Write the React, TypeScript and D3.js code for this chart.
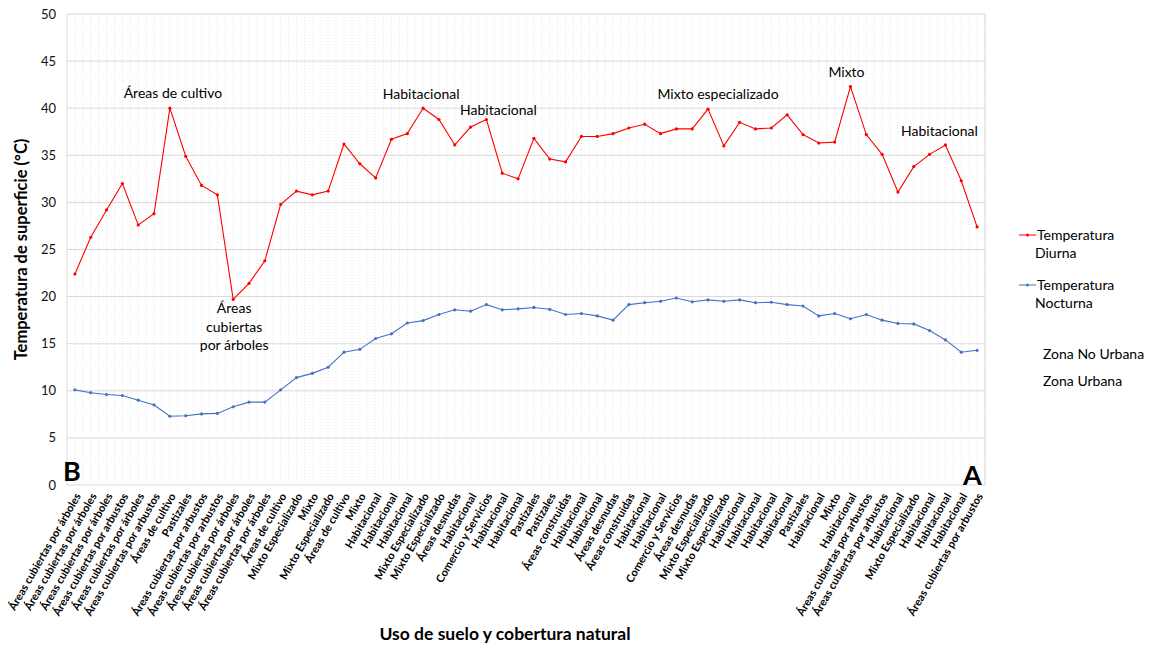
import {default as React, useEffect, useRef} from "react";
import * as d3 from "d3";

const ARB = "Áreas cubiertas por árboles";
const ARBU = "Áreas cubiertas por arbustos";
const HAB = "Habitacional";
const MXE = "Mixto Especializado";

const categories: string[] = [
    ARB, ARB, ARB, ARBU, ARB, ARBU, "Áreas de cultivo", "Pastizales", ARBU, ARBU,
    ARB, ARB, ARB, "Áreas de cultivo", MXE, "Mixto", MXE, "Áreas de cultivo", "Mixto", HAB,
    HAB, HAB, MXE, MXE, "Áreas desnudas", HAB, "Comercio y Servicios", HAB, HAB, "Pastizales",
    "Pastizales", "Áreas construidas", HAB, HAB, "Áreas desnudas", "Áreas construidas", HAB, HAB, "Comercio y Servicios", "Áreas desnudas",
    MXE, MXE, HAB, HAB, HAB, HAB, "Pastizales", HAB, "Mixto", HAB,
    ARBU, ARBU, HAB, MXE, HAB, HAB, HAB, ARBU
];

const diurna: number[] = [
    22.4, 26.3, 29.2, 32.0, 27.6, 28.8, 40.0, 34.9, 31.8, 30.8,
    19.7, 21.4, 23.8, 29.8, 31.2, 30.8, 31.2, 36.2, 34.1, 32.6,
    36.7, 37.3, 40.0, 38.8, 36.1, 38.0, 38.8, 33.1, 32.5, 36.8,
    34.6, 34.3, 37.0, 37.0, 37.3, 37.9, 38.3, 37.3, 37.8, 37.8,
    39.9, 36.0, 38.5, 37.8, 37.9, 39.3, 37.2, 36.3, 36.4, 42.3,
    37.2, 35.1, 31.1, 33.8, 35.1, 36.1, 32.3, 27.4
];

const nocturna: number[] = [
    10.1, 9.8, 9.6, 9.5, 9.0, 8.5, 7.3, 7.35, 7.55, 7.6,
    8.3, 8.8, 8.8, 10.1, 11.4, 11.85, 12.5, 14.1, 14.4, 15.55,
    16.05, 17.2, 17.45, 18.1, 18.6, 18.45, 19.15, 18.6, 18.7, 18.85,
    18.65, 18.1, 18.2, 17.95, 17.5, 19.15, 19.35, 19.5, 19.85, 19.45,
    19.65, 19.5, 19.65, 19.35, 19.4, 19.15, 19.0, 17.95, 18.2, 17.65,
    18.1, 17.5, 17.15, 17.1, 16.4, 15.4, 14.1, 14.3
];

const yTicks: number[] = [0, 5, 10, 15, 20, 25, 30, 35, 40, 45, 50];

// annotations: [category index, value, lines]
const notes: Array<[number, number, string[]]> = [
    [6, 40, ["Áreas de cultivo"]],
    [10, 19.7, ["Áreas", "cubiertas", "por árboles"]],
    [22, 40, ["Habitacional"]],
    [26, 38.8, ["Habitacional"]],
    [40, 39.9, ["Mixto especializado"]],
    [49, 42.3, ["Mixto"]],
    [55, 36.1, ["Habitacional"]]
];

const width = 1152;
const height = 646;
const plot = {left: 67, right: 985, top: 14, bottom: 485};
const font = "Lato, 'Open Sans', sans-serif";

export default function App() {
    const ref = useRef<SVGSVGElement>(null);

    useEffect(() => {
        const svg = d3.select(ref.current);
        svg.selectAll("*").remove();

        const idx = categories.map((_, i) => i);
        const x = d3.scalePoint<number>().domain(idx).range([plot.left, plot.right]).padding(0.5);
        const y = d3.scaleLinear().domain([0, 50]).range([plot.bottom, plot.top]);
        const step = x.step();

        // dotted vertical grid
        const vg = svg.append("g");
        idx.forEach(i => {
            [x(i)!, x(i)! + step / 2].forEach(px => {
                vg.append("line")
                    .attr("x1", px).attr("x2", px)
                    .attr("y1", plot.top).attr("y2", plot.bottom)
                    .attr("stroke", "#e4e4e4")
                    .attr("stroke-dasharray", "1,2");
            });
        });

        // horizontal grid
        svg.append("g").selectAll("line")
            .data(yTicks)
            .join("line")
            .attr("x1", plot.left).attr("x2", plot.right)
            .attr("y1", d => y(d)).attr("y2", d => y(d))
            .attr("stroke", "#d9d9d9");

        svg.append("line")
            .attr("x1", plot.left).attr("x2", plot.left)
            .attr("y1", plot.top).attr("y2", plot.bottom)
            .attr("stroke", "#d9d9d9");
        svg.append("line")
            .attr("x1", plot.right).attr("x2", plot.right)
            .attr("y1", plot.top).attr("y2", plot.bottom)
            .attr("stroke", "#d9d9d9");

        // y tick labels
        svg.append("g").selectAll("text")
            .data(yTicks)
            .join("text")
            .attr("x", 56)
            .attr("y", d => y(d))
            .attr("dy", "0.35em")
            .attr("text-anchor", "end")
            .attr("font-family", font)
            .attr("font-size", 13)
            .attr("fill", "#111")
            .text(d => d);

        // x tick labels
        svg.append("g").selectAll("text")
            .data(idx)
            .join("text")
            .attr("transform", i => `translate(${x(i)! + 3},${plot.bottom + 9}) rotate(-60)`)
            .attr("dy", "0.35em")
            .attr("text-anchor", "end")
            .attr("font-family", font)
            .attr("font-size", 11)
            .attr("font-weight", 700)
            .attr("fill", "#000")
            .text(i => categories[i]);

        const line = d3.line<number>()
            .x((_, i) => x(i)!)
            .y(d => y(d));

        const series: Array<[number[], string]> = [[diurna, "#ff0000"], [nocturna, "#4472c4"]];
        series.forEach(([vals, color]) => {
            svg.append("path")
                .datum(vals)
                .attr("fill", "none")
                .attr("stroke", color)
                .attr("stroke-width", 1.1)
                .attr("d", line);
            svg.append("g").selectAll("circle")
                .data(vals)
                .join("circle")
                .attr("cx", (_, i) => x(i)!)
                .attr("cy", d => y(d))
                .attr("r", 1.6)
                .attr("fill", color);
        });

        // annotations
        const ann = svg.append("g")
            .attr("font-family", font)
            .attr("font-size", 14)
            .attr("fill", "#000")
            .attr("text-anchor", "middle");
        const offsets: Array<[number, number]> = [[3, -10], [1, 14], [-2, -9], [12, -5], [10, -10], [-4, -10], [-6, -9]];
        notes.forEach(([i, v, lines], k) => {
            const [dx, dy] = offsets[k];
            lines.forEach((t, j) => {
                ann.append("text")
                    .attr("x", x(i)! + dx)
                    .attr("y", y(v) + dy + j * 18.5)
                    .text(t);
            });
        });

        // B / A markers
        svg.append("text")
            .attr("x", 63).attr("y", 481)
            .attr("font-family", font).attr("font-size", 27).attr("font-weight", 700)
            .text("B");
        svg.append("text")
            .attr("x", 963).attr("y", 485)
            .attr("font-family", font).attr("font-size", 27).attr("font-weight", 700)
            .text("A");

        // axis titles
        svg.append("text")
            .attr("transform", `translate(27,${(plot.top + plot.bottom) / 2}) rotate(-90)`)
            .attr("text-anchor", "middle")
            .attr("font-family", font).attr("font-size", 16.5).attr("font-weight", 700)
            .text("Temperatura de superficie (°C)");
        svg.append("text")
            .attr("x", 505).attr("y", 640)
            .attr("text-anchor", "middle")
            .attr("font-family", font).attr("font-size", 17.5).attr("font-weight", 700)
            .text("Uso de suelo y cobertura natural");

        // legend
        const lg = svg.append("g").attr("font-family", font).attr("font-size", 14).attr("fill", "#000");
        const entries: Array<[string, string, number]> = [["Diurna", "#ff0000", 235], ["Nocturna", "#4472c4", 285]];
        entries.forEach(([name, color, ly]) => {
            lg.append("line")
                .attr("x1", 1019).attr("x2", 1036)
                .attr("y1", ly).attr("y2", ly)
                .attr("stroke", color);
            lg.append("circle").attr("cx", 1027.5).attr("cy", ly).attr("r", 1.5).attr("fill", color);
            lg.append("text").attr("x", 1037).attr("y", ly).attr("dy", "0.35em").text("Temperatura");
            lg.append("text").attr("x", 1035).attr("y", ly + 18).attr("dy", "0.35em").text(name);
        });
        lg.append("text").attr("x", 1043).attr("y", 354).attr("dy", "0.35em").text("Zona No Urbana");
        lg.append("text").attr("x", 1043).attr("y", 381).attr("dy", "0.35em").text("Zona Urbana");
    }, []);

    return (
        <svg
            ref={ref}
            width={width}
            height={height}
            style={{position: "absolute", left: 0, top: 0, backgroundColor: "white"}}
        />
    );
}
